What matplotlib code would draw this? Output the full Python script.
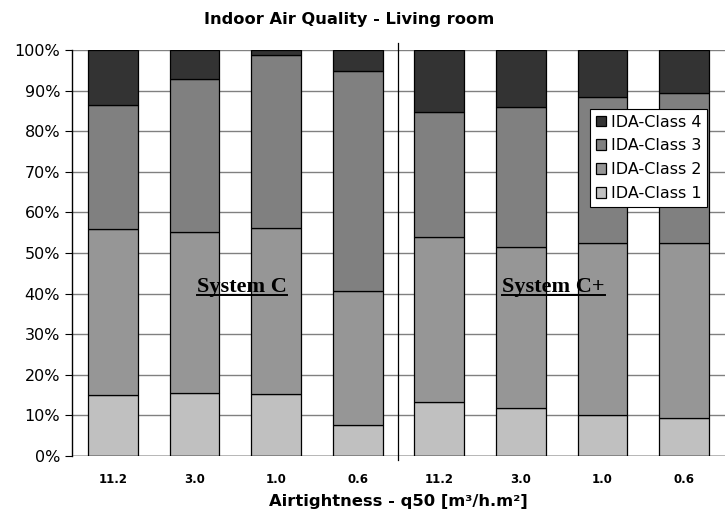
import numpy as np
import matplotlib.pyplot as plt
from matplotlib.ticker import PercentFormatter

# Dati (percentuali per classe)
labels = ["11.2", "3.0", "1.0", "0.6", "11.2", "3.0", "1.0", "0.6"]
class1 = [15.0, 15.4, 15.3, 7.6, 13.4, 11.9, 10.2, 9.3]
class2 = [40.9, 39.8, 40.9, 33.0, 40.6, 39.7, 42.3, 43.3]
class3 = [30.6, 37.6, 42.6, 54.2, 30.7, 34.4, 36.0, 36.9]
class4 = [13.5, 7.2, 1.2, 5.2, 15.3, 14.0, 11.5, 10.5]

series = [class1, class2, class3, class4]
names = ["IDA-Class 1", "IDA-Class 2", "IDA-Class 3", "IDA-Class 4"]
colors = ["#c0c0c0", "#969696", "#808080", "#333333"]
systems = [(1.58, "System C"), (5.4, "System C+")]

fig = plt.figure(figsize=(7.25, 5.17), dpi=100)
ax = fig.add_axes([0.0993, 0.118, 0.9007, 0.785])

x = np.arange(len(labels))
bottom = np.zeros(len(labels))
bars = []
for vals, name, col in zip(series, names, colors):
    b = ax.bar(x, vals, width=0.61, bottom=bottom, color=col,
               edgecolor="black", linewidth=0.9, label=name, zorder=3)
    bars.append(b)
    bottom += np.array(vals)

ax.set_xlim(-0.5, len(labels) - 0.5)
ax.set_ylim(0, 100)
ax.set_yticks(np.arange(0, 101, 10))
ax.yaxis.set_major_formatter(PercentFormatter(decimals=0))
ax.grid(axis="y", color="#808080", linewidth=1.0, zorder=0)
ax.set_axisbelow(True)

for s in ["top", "right", "bottom"]:
    ax.spines[s].set_visible(False)
ax.spines["left"].set_linewidth(1.0)
ax.axhline(0, color="black", linewidth=1.0, zorder=4)

ax.set_xticks(x)
ax.set_xticklabels(labels, fontsize=8.5, fontweight="bold")
ax.tick_params(axis="x", length=0, pad=12)
ax.tick_params(axis="y", labelsize=11.5, length=5, direction="out")

# Linea di separazione tra i due sistemi
ax.plot([3.5, 3.5], [-1.0, 101.7], color="black", linewidth=0.9,
        clip_on=False, zorder=5)

fig.text(0.481, 0.962, "Indoor Air Quality - Living room", fontsize=11.7,
         fontweight="bold", ha="center", va="center")
ax.set_xlabel("Airtightness - q50 [m³/h.m²]", fontsize=11.8,
              fontweight="bold", labelpad=6)

# Etichette dei sistemi, sottolineate
fig.canvas.draw()
renderer = fig.canvas.get_renderer()
inv = ax.transData.inverted()
for xc, txt in systems:
    t = ax.text(xc, 40.5, txt, fontsize=16, fontweight="bold",
                family="Liberation Serif", ha="center", va="baseline",
                zorder=6)
    bb = t.get_window_extent(renderer)
    (x0, _), (x1, _) = inv.transform([(bb.x0, bb.y0), (bb.x1, bb.y0)])
    ax.plot([x0, x1], [39.7, 39.7], color="black", linewidth=1.4, zorder=6)

handles = bars[::-1]
leg = ax.legend(handles, names[::-1], loc="upper left",
                bbox_to_anchor=(0.794, 0.855), fontsize=11.5,
                frameon=True, fancybox=False, edgecolor="black",
                framealpha=1, borderpad=0.35, labelspacing=0.55,
                handlelength=0.65, handleheight=0.65, handletextpad=0.3,
                borderaxespad=0)
leg.get_frame().set_linewidth(0.8)
leg.set_zorder(7)

fig.savefig("out.png", dpi=100)
